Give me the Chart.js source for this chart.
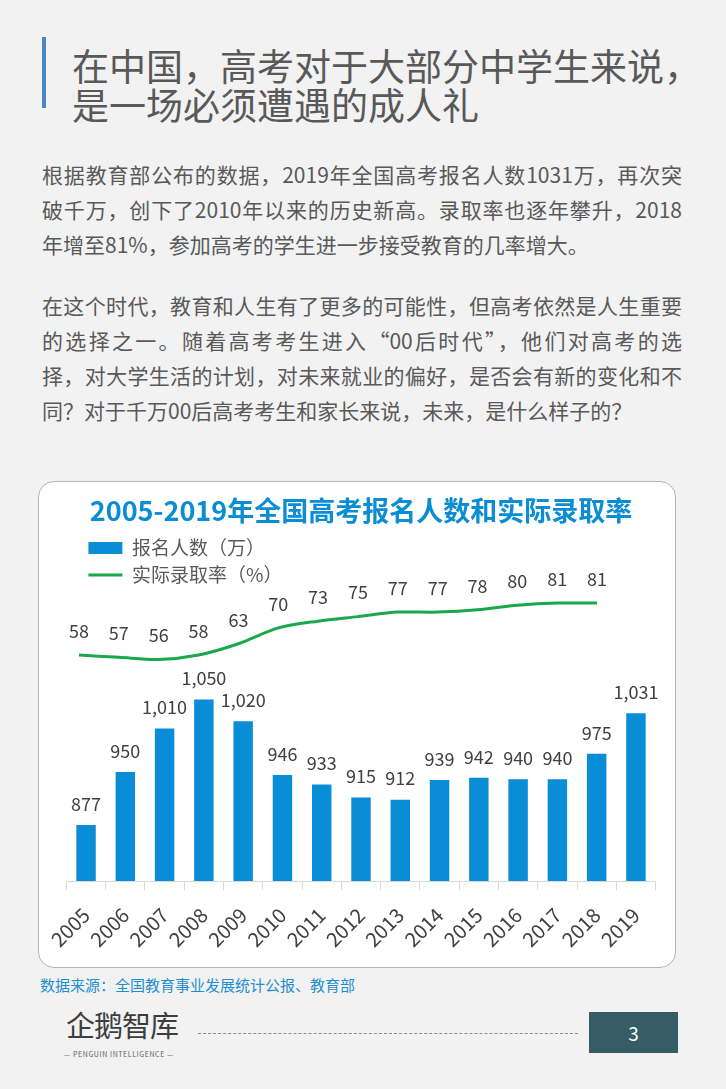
<!DOCTYPE html>
<html>
<head>
<meta charset="utf-8">
<script src="https://cdn.jsdelivr.net/npm/chart.js@4/dist/chart.umd.min.js"></script>
<style>
  body { margin: 0; background: #f2f2f2; font-family: "Noto Sans CJK SC", "Noto Sans", sans-serif; }
  #page { position: relative; width: 726px; height: 1089px; overflow: hidden; background: #f2f2f2; }
  .abs { position: absolute; }
  #bar { left: 42px; top: 37px; width: 4px; height: 71px; background: #4b87c6; }
  #head { left: 72px; top: 46px; font-size: 37px; line-height: 39px; color: #595959; white-space: nowrap; }
  .para { left: 42px; width: 640px; font-size: 21px; line-height: 35px; color: #595959; }
  .para div { text-align: justify; text-align-last: justify; }
  .para div.last { text-align: left; text-align-last: left; }
  #box { left: 38px; top: 481px; width: 638px; height: 487px; box-sizing: border-box; background: #fff; border: 1px solid #b5b5b5; border-radius: 16px; }
  #wrap { left: 38px; top: 481px; width: 638px; height: 487px; }
  #src { left: 40px; top: 975px; font-size: 15px; line-height: 20px; color: #1f8ed0; }
  #logo { left: 66px; top: 1007px; font-size: 29px; line-height: 34px; color: #3d3d3d; letter-spacing: -1px; }
  #logo2 { left: 64px; top: 1049px; font-size: 7px; line-height: 10px; color: #606060; letter-spacing: 0.6px; white-space: nowrap; }
  #dash { left: 198px; top: 1033px; width: 380px; border-top: 1px dashed #8c8c8c; }
  #pg { left: 589px; top: 1012px; width: 89px; height: 41px; background: #365c66; color: #fff; font-size: 19px; line-height: 41px; text-align: center; }
</style>
</head>
<body>
<div id="page">
  <div class="abs" id="bar"></div>
  <div class="abs" id="head">在中国，高考对于大部分中学生来说，<br>是一场必须遭遇的成人礼</div>

  <div class="abs para" style="top:157px">
    <div>根据教育部公布的数据，2019年全国高考报名人数1031万，再次突</div>
    <div>破千万，创下了2010年以来的历史新高。录取率也逐年攀升，2018</div>
    <div class="last">年增至81%，参加高考的学生进一步接受教育的几率增大。</div>
  </div>
  <div class="abs para" style="top:288px">
    <div>在这个时代，教育和人生有了更多的可能性，但高考依然是人生重要</div>
    <div>的选择之一。随着高考考生进入“00后时代”，他们对高考的选</div>
    <div>择，对大学生活的计划，对未来就业的偏好，是否会有新的变化和不</div>
    <div class="last">同？对于千万00后高考考生和家长来说，未来，是什么样子的？</div>
  </div>

  <div class="abs" id="box"></div>
  <div class="abs" id="wrap"><canvas id="chart"></canvas></div>

  <div class="abs" id="src">数据来源：全国教育事业发展统计公报、教育部</div>
  <div class="abs" id="logo">企鹅智库</div>
  <div class="abs" id="logo2">— PENGUIN INTELLIGENCE —</div>
  <div class="abs" id="dash"></div>
  <div class="abs" id="pg">3</div>
</div>

<script>
const years = ["2005", "2006", "2007", "2008", "2009", "2010", "2011", "2012",
  "2013", "2014", "2015", "2016", "2017", "2018", "2019"];
const applicants = [877, 950, 1010, 1050, 1020, 946, 933, 915, 912, 939, 942, 940, 940, 975, 1031];
const admitRate = [58, 57, 56, 58, 63, 70, 73, 75, 77, 77, 78, 80, 81, 81, null];

const chartTitle = "2005-2019年全国高考报名人数和实际录取率";
const barLabel = "报名人数（万）";
const lineLabel = "实际录取率（%）";

const FONT = '"Noto Sans CJK SC", "Noto Sans", sans-serif';
const BLUE = "#0a8dd7";
const GREEN = "#1ba84b";

// the rate line in the original sits on its own, slightly wider x spacing
const ratePoints = admitRate.map((v, i) => ({ x: i, y: v }));

// value labels above bars and line points
const valueLabels = {
  id: "valueLabels",
  afterDatasetsDraw(chart) {
    const ctx = chart.ctx;
    ctx.save();
    ctx.font = "18px " + FONT;
    ctx.fillStyle = "#404040";
    ctx.textAlign = "center";
    ctx.textBaseline = "middle";
    chart.data.datasets.forEach((ds, di) => {
      const meta = chart.getDatasetMeta(di);
      meta.data.forEach((el, i) => {
        const v = di === 0 ? ds.data[i] : ds.data[i].y;
        if (v == null) return;
        if (di === 0) ctx.fillText(v.toLocaleString("en-US"), el.x, el.y - 21);
        else ctx.fillText(String(v), el.x, el.y - 24);
      });
    });
    ctx.restore();
  }
};

// put the in-area legend at the top left of the plot, a little indented
const legendShift = {
  id: "legendShift",
  afterLayout(chart) {
    const lg = chart.legend;
    if (!lg) return;
    const w = lg.width, h = lg.height;
    lg.left = chart.chartArea.left + 14;
    lg.top = chart.chartArea.top + 1;
    lg.right = lg.left + w;
    lg.bottom = lg.top + h;
  }
};

new Chart(document.getElementById("chart"), {
  data: {
    labels: years,
    datasets: [
      {
        type: "bar",
        label: barLabel,
        data: applicants,
        backgroundColor: BLUE,
        barPercentage: 0.9,
        categoryPercentage: 0.55,
        grouped: false,
        xAxisID: "x",
        yAxisID: "y"
      },
      {
        type: "line",
        label: lineLabel,
        data: ratePoints,
        borderColor: GREEN,
        backgroundColor: GREEN,
        borderWidth: 3,
        tension: 0.3,
        pointRadius: 0,
        xAxisID: "x2",
        yAxisID: "y2"
      }
    ]
  },
  options: {
    responsive: true,
    maintainAspectRatio: false,
    animation: false,
    layout: { padding: { left: 28.4, right: 20.4, top: 0, bottom: 0 } },
    plugins: {
      title: {
        display: true,
        text: chartTitle,
        color: "#0b8dd6",
        font: { family: FONT, size: 27, weight: "bold" },
        padding: { top: 14, bottom: 2 }
      },
      legend: {
        position: "chartArea",
        align: "start",
        labels: {
          usePointStyle: true,
          pointStyleWidth: 34,
          boxHeight: 12,
          padding: 8,
          color: "#595959",
          font: { family: FONT, size: 19 },
          generateLabels(chart) {
            return chart.data.datasets.map((ds, i) => ({
              text: ds.label,
              fillStyle: i === 0 ? BLUE : GREEN,
              strokeStyle: GREEN,
              lineWidth: i === 0 ? 0 : 3,
              pointStyle: i === 0 ? "rect" : "line",
              fontColor: "#595959",
              hidden: false,
              datasetIndex: i
            }));
          }
        }
      },
      tooltip: { enabled: false }
    },
    scales: {
      x: {
        grid: { offset: true, drawOnChartArea: false, color: "#d9d9d9", tickLength: 9 },
        border: { color: "#d9d9d9" },
        ticks: {
          color: "#404040",
          font: { family: FONT, size: 20 },
          maxRotation: 45,
          minRotation: 45,
          padding: 13
        },
        afterFit(scale) { scale.height = 87; }
      },
      x2: { type: "linear", display: false, min: -0.316, max: 14.47 },
      y: { display: false, min: 800, max: 1284 },
      y2: { display: false, min: -42, max: 113.6 }
    }
  },
  plugins: [valueLabels, legendShift]
});
</script>
</body>
</html>
